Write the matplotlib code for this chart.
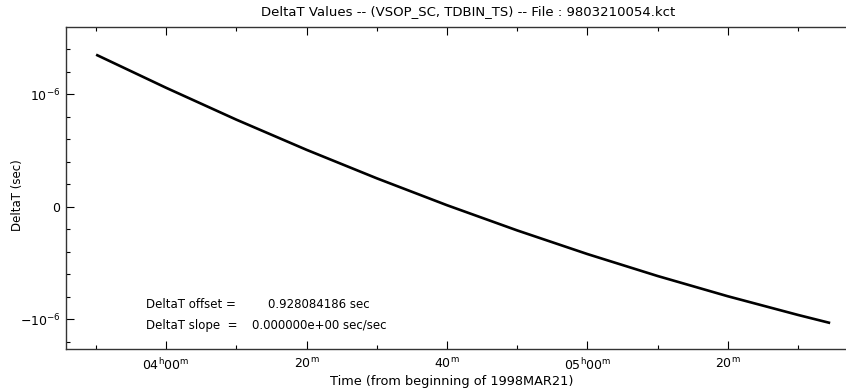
import matplotlib
matplotlib.use("Agg")
import matplotlib.pyplot as plt
from matplotlib.ticker import MultipleLocator, FixedLocator, FuncFormatter

# time in minutes of day (1998MAR21), DeltaT in units of 1e-6 sec
time_min = [230, 240, 250, 260, 270, 280, 290, 300, 310, 320, 330, 334.6]
deltat_us = [1.351, 1.056, 0.773, 0.505, 0.252, 0.013, -0.211, -0.421,
             -0.616, -0.796, -0.962, -1.034]

y_ticks = [-1e-6, 0, 1e-6]
y_tick_labels = [r'$-10^{-6}$', '0', r'$10^{-6}$']

title = "DeltaT Values -- (VSOP_SC, TDBIN_TS) -- File : 9803210054.kct"
offset_txt = ("DeltaT offset =", "0.928084186 sec")
slope_txt = ("DeltaT slope  =", "0.000000e+00 sec/sec")

plt.rcParams['font.family'] = ['DejaVu Sans']
plt.rcParams['mathtext.fontset'] = 'dejavusans'

W, H = 846, 389
fig = plt.figure(figsize=(W / 100, H / 100), dpi=100)
ax = fig.add_axes([66 / W, (H - 349) / H, (852 - 66) / W, (349 - 27) / H])

y = [v * 1e-6 for v in deltat_us]
ax.plot(time_min, y, color='black', lw=1.9, solid_capstyle='butt')

ax.set_xlim(225.71, 337.71)
ax.set_ylim(-1.265e-6, 1.597e-6)


def fmt_time(v, pos):
    h = int(v // 60)
    m = int(round(v - 60 * h))
    if m == 0:
        return r'%02d$^{\mathrm{h}}$00$^{\mathrm{m}}$' % h
    return r'%02d$^{\mathrm{m}}$' % m


ax.xaxis.set_major_locator(MultipleLocator(20))
ax.xaxis.set_minor_locator(MultipleLocator(10))
ax.xaxis.set_major_formatter(FuncFormatter(fmt_time))
ax.yaxis.set_major_locator(FixedLocator(y_ticks))
ax.yaxis.set_ticklabels(y_tick_labels)
ax.yaxis.set_minor_locator(MultipleLocator(0.2e-6))

ax.tick_params(which='both', direction='in', top=True, right=False,
               labelsize=9, width=0.8, color='black')
ax.tick_params(which='major', length=6, pad=6)
ax.tick_params(axis='y', which='major', pad=4)
ax.tick_params(which='minor', length=3)
ax.spines['right'].set_visible(False)
for s in ['left', 'bottom', 'top']:
    ax.spines[s].set_linewidth(1.0)
    ax.spines[s].set_color('#333333')

fig.text(468 / W, 1 - 12 / H, title, ha='center', va='center', fontsize=9.5)
fig.text(452 / W, 1 - 381 / H, "Time (from beginning of 1998MAR21)",
         ha='center', va='center', fontsize=9.3)
fig.text(17 / W, 1 - 195 / H, "DeltaT (sec)", rotation=90,
         ha='center', va='center', fontsize=8.5)

fig.text(146 / W, 1 - 304 / H, offset_txt[0], ha='left', va='center', fontsize=8.5)
fig.text(268 / W, 1 - 304 / H, offset_txt[1], ha='left', va='center', fontsize=8.5)
fig.text(146 / W, 1 - 325 / H, slope_txt[0], ha='left', va='center', fontsize=8.5)
fig.text(252 / W, 1 - 325 / H, slope_txt[1], ha='left', va='center', fontsize=8.5)

fig.savefig("out.png", dpi=100, facecolor='white')
